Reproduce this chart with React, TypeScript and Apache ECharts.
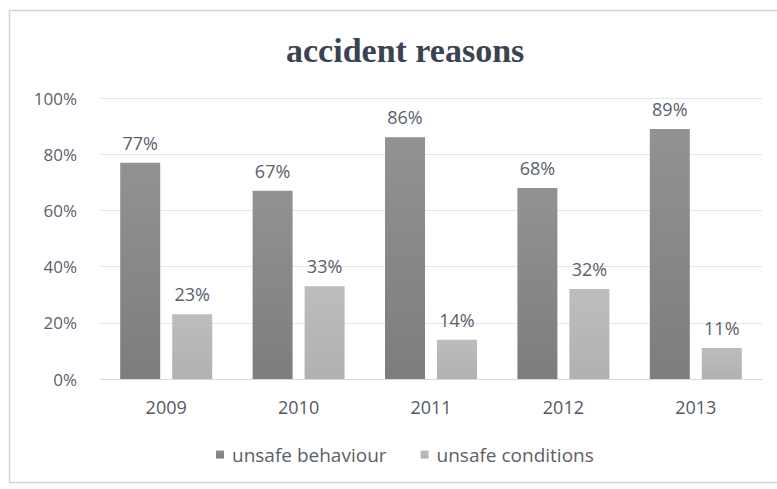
import React, { useEffect, useRef } from "react";
import * as echarts from "echarts";

const years = ["2009", "2010", "2011", "2012", "2013"];
const unsafeBehaviour = [77, 67, 86, 68, 89];
const unsafeConditions = [23, 33, 14, 32, 11];
const yTicks = [0, 20, 40, 60, 80, 100];

const sans = "'Open Sans', 'Noto Sans', sans-serif";

export default function App() {
  const ref = useRef<HTMLDivElement>(null);

  useEffect(() => {
    if (!ref.current) return;
    const chart = echarts.init(ref.current, undefined, { renderer: "svg" });
    const label = {
      show: true,
      position: "top" as const,
      distance: 11,
      formatter: "{c}%",
      color: "#5b616d",
      fontFamily: sans,
      fontSize: 18,
    };
    chart.setOption({
      animation: false,
      backgroundColor: "#ffffff",
      title: {
        text: "accident reasons",
        left: 281,
        top: 28,
        textStyle: {
          fontFamily: "'Liberation Serif', 'DejaVu Serif', serif",
          fontWeight: "bold",
          fontSize: 34,
          color: "#3a4350",
        },
      },
      graphic: [
        {
          type: "rect",
          shape: { x: 9.5, y: 10.5, width: 800, height: 472 },
          style: { fill: "none", stroke: "#d6d6d6", lineWidth: 1.5 },
          silent: true,
        },
      ],
      legend: {
        bottom: 20,
        left: 211,
        itemWidth: 8,
        itemHeight: 8,
        itemGap: 34,
        itemStyle: { borderWidth: 0 },
        icon: "rect",
        textStyle: { color: "#5b5f66", fontFamily: sans, fontSize: 19, padding: [0, 0, 0, 3] },
        data: ["unsafe behaviour", "unsafe conditions"],
      },
      grid: { left: 100, right: 15, top: 98, bottom: 110 },
      xAxis: {
        type: "category",
        data: years,
        axisTick: { show: false },
        axisLine: { lineStyle: { color: "#d9d9d9" } },
        axisLabel: { color: "#55595f", fontFamily: sans, fontSize: 18, margin: 19 },
      },
      yAxis: {
        type: "value",
        min: yTicks[0],
        max: yTicks[yTicks.length - 1],
        interval: 20,
        axisLabel: {
          formatter: "{value}%",
          color: "#5b616d",
          fontFamily: sans,
          fontSize: 17,
          margin: 23,
        },
        splitLine: { lineStyle: { color: "#e6e6e6" } },
      },
      series: [
        {
          name: "unsafe behaviour",
          type: "bar",
          data: unsafeBehaviour,
          barWidth: 40,
          barGap: "30%",
          itemStyle: {
            color: new echarts.graphic.LinearGradient(0, 0, 0, 1, [
              { offset: 0, color: "#929292" },
              { offset: 1, color: "#7d7d7d" },
            ]),
          },
          label,
        },
        {
          name: "unsafe conditions",
          type: "bar",
          data: unsafeConditions,
          barWidth: 40,
          itemStyle: {
            color: new echarts.graphic.LinearGradient(0, 0, 0, 1, [
              { offset: 0, color: "#bdbdbd" },
              { offset: 1, color: "#b1b1b1" },
            ]),
          },
          label,
        },
      ],
    });
    return () => chart.dispose();
  }, []);

  return (
    <div
      ref={ref}
      style={{ position: "fixed", left: 0, top: 0, width: 777, height: 489 }}
    />
  );
}
